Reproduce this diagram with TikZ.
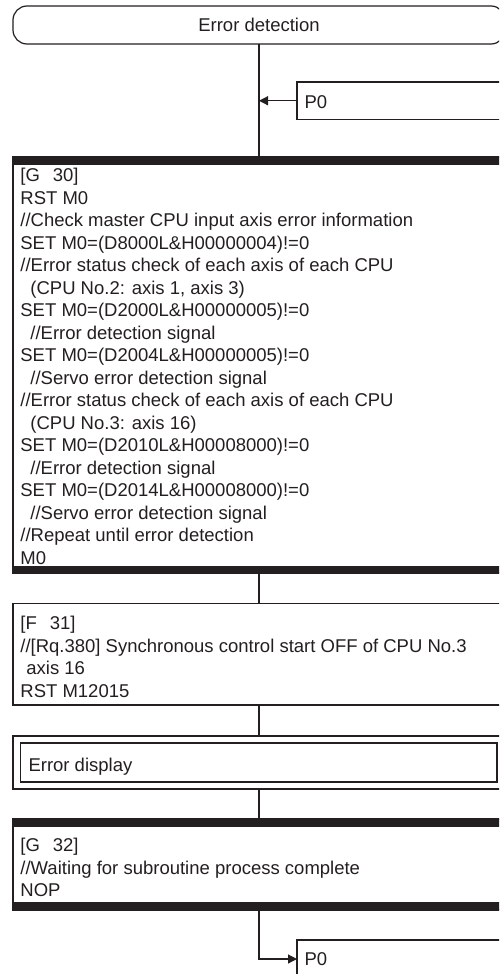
\documentclass[tikz,border=0pt]{standalone}
\usepackage{fontspec}
\setmainfont{Liberation Sans}
\usetikzlibrary{arrows.meta}
\definecolor{ink}{HTML}{231F20}
\newcommand{\myind}{\hspace*{10pt}}
\newcommand{\myindb}{\hspace*{6pt}}
\begin{document}
\begin{tikzpicture}[x=1pt,y=-1pt,
  every node/.style={inner sep=0pt, outer sep=0pt},
  txt/.style={text=ink, font=\fontsize{18.5}{22.5}\selectfont, align=left, anchor=north west},
  term/.style={draw=ink, line width=1.2pt, rounded corners=14pt, text=ink,
    font=\fontsize{18.5}{22.5}\selectfont, minimum width=492pt, minimum height=38pt},
  box/.style={draw=ink, line width=1.2pt, rectangle, anchor=north west},
  wire/.style={draw=ink, line width=1.2pt},
  arr/.style={wire, -{Triangle[length=9pt,width=9pt]}},
  barfill/.style={fill=ink}]
\useasboundingbox (0,0) rectangle (499,974);
\clip (0,0) rectangle (499,974);

% terminal
\node[term] (term) at (259,25) {Error detection};

% P0 entry
\node[box, minimum width=250pt, minimum height=37.5pt] (p0a) at (297,82) {};
\node[txt, anchor=base west] (p0atxt) at (304.5,108.3) {P0};

% G30
\node[box, minimum width=520pt, minimum height=416pt] (g30) at (13,157) {};
\fill[barfill] (g30.north west) rectangle ++(520,8);
\fill[barfill] (g30.south west) rectangle ++(520,-7);
\node[txt] (g30txt) at (20.4,168.1) {[G\hspace{13pt}30]\\
RST M0\\
//Check master CPU input axis error information\\
SET M0=(D8000L\&H00000004)!=0\\
//Error status check of each axis of each CPU\\
\myind(CPU No.2: axis 1, axis 3)\\
SET M0=(D2000L\&H00000005)!=0\\
\myind//Error detection signal\\
SET M0=(D2004L\&H00000005)!=0\\
\myind//Servo error detection signal\\
//Error status check of each axis of each CPU\\
\myind(CPU No.3: axis 16)\\
SET M0=(D2010L\&H00008000)!=0\\
\myind//Error detection signal\\
SET M0=(D2014L\&H00008000)!=0\\
\myind//Servo error detection signal\\
//Repeat until error detection\\
M0};

% F31
\node[box, minimum width=520pt, minimum height=101.5pt] (f31) at (13,603.5) {};
\node[txt] (f31txt) at (20.4,616.1) {[F\hspace{13pt}31]\\
//[Rq.380] Synchronous control start OFF of CPU No.3\\
\myindb axis 16\\
RST M12015};

% Error display (subroutine)
\node[box, minimum width=520pt, minimum height=53pt] (errd) at (13,736) {};
\node[box, minimum width=476.5pt, minimum height=39pt] (errdin) at (20.5,743) {};
\node[txt, anchor=base west] (errdtxt) at (28.5,771.6) {Error display};

% G32
\node[box, minimum width=520pt, minimum height=91pt] (g32) at (13,819) {};
\fill[barfill] (g32.north west) rectangle ++(520,8);
\fill[barfill] (g32.south west) rectangle ++(520,-8);
\node[txt] (g32txt) at (20.4,838.1) {[G\hspace{13pt}32]\\
//Waiting for subroutine process complete\\
NOP};

% P0 exit
\node[box, minimum width=250pt, minimum height=38pt] (p0b) at (297,940) {};
\node[txt, anchor=base west] (p0btxt) at (304.5,965) {P0};

% connectors
\draw[wire] (term.south) -- (term.south |- g30.north);
\draw[arr] (p0a.west) -- (p0a.west -| term.south);
\draw[wire] (term.south |- g30.south) -- (term.south |- f31.north);
\draw[wire] (term.south |- f31.south) -- (term.south |- errd.north);
\draw[wire] (term.south |- errd.south) -- (term.south |- g32.north);
\draw[arr] (term.south |- g32.south) |- (p0b.west);
\end{tikzpicture}
\end{document}
